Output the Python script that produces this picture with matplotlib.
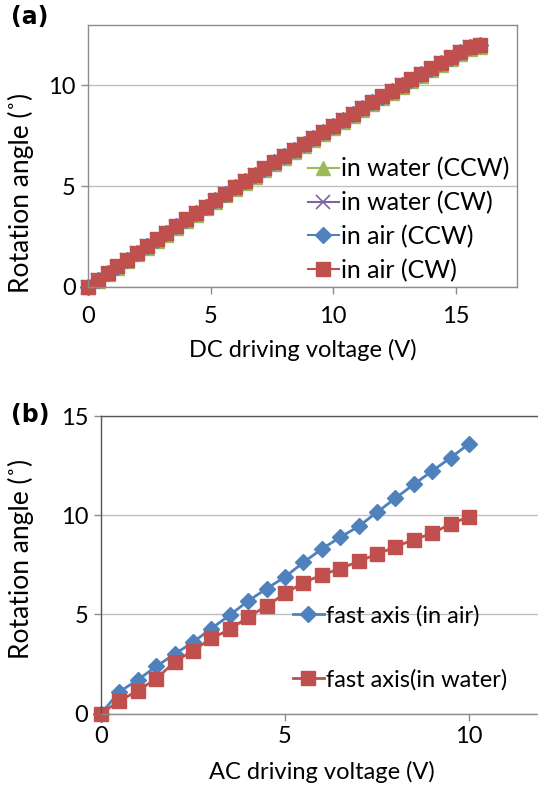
import matplotlib
matplotlib.use("Agg")
import matplotlib.pyplot as plt

plt.rcParams['font.family'] = ['Lato', 'DejaVu Sans']

# (a) DC driving, 0.4 V steps
dc_volt = [0.0, 0.4, 0.8, 1.2, 1.6, 2.0, 2.4, 2.8, 3.2, 3.6, 4.0, 4.4, 4.8, 5.2,
           5.6, 6.0, 6.4, 6.8, 7.2, 7.6, 8.0, 8.4, 8.8, 9.2, 9.6, 10.0, 10.4, 10.8,
           11.2, 11.6, 12.0, 12.4, 12.8, 13.2, 13.6, 14.0, 14.4, 14.8, 15.2, 15.6, 16.0]
air_cw = [0.00, 0.34, 0.68, 1.02, 1.36, 1.70, 2.03, 2.36, 2.69, 3.02, 3.35, 3.67, 3.99, 4.31,
          4.63, 4.95, 5.26, 5.57, 5.88, 6.19, 6.50, 6.80, 7.10, 7.40, 7.70, 8.00, 8.30, 8.59,
          8.88, 9.17, 9.46, 9.74, 10.02, 10.30, 10.58, 10.85, 11.12, 11.39, 11.66, 11.92, 12.00]
air_ccw = [0.00, 0.33, 0.67, 1.01, 1.35, 1.69, 2.02, 2.35, 2.68, 3.01, 3.34, 3.66, 3.98, 4.30,
           4.62, 4.94, 5.25, 5.56, 5.87, 6.18, 6.49, 6.79, 7.09, 7.39, 7.69, 7.99, 8.29, 8.58,
           8.87, 9.16, 9.45, 9.73, 10.01, 10.29, 10.57, 10.84, 11.11, 11.38, 11.65, 11.91, 11.99]
water_cw = [0.00, 0.33, 0.66, 1.00, 1.34, 1.68, 2.01, 2.34, 2.67, 3.00, 3.33, 3.65, 3.97, 4.29,
            4.61, 4.93, 5.24, 5.55, 5.86, 6.17, 6.48, 6.78, 7.08, 7.38, 7.68, 7.98, 8.28, 8.57,
            8.86, 9.15, 9.44, 9.72, 10.00, 10.28, 10.56, 10.83, 11.10, 11.37, 11.64, 11.90, 11.98]
water_ccw = [0.00, 0.29, 0.62, 0.95, 1.28, 1.62, 1.95, 2.27, 2.60, 2.93, 3.26, 3.58, 3.90, 4.22,
             4.54, 4.86, 5.17, 5.48, 5.79, 6.09, 6.40, 6.70, 7.00, 7.30, 7.60, 7.90, 8.20, 8.49,
             8.78, 9.07, 9.36, 9.64, 9.92, 10.20, 10.48, 10.75, 11.02, 11.29, 11.56, 11.82, 11.90]

# (b) AC driving, 0.5 V steps
ac_volt = [0.0, 0.5, 1.0, 1.5, 2.0, 2.5, 3.0, 3.5, 4.0, 4.5, 5.0,
           5.5, 6.0, 6.5, 7.0, 7.5, 8.0, 8.5, 9.0, 9.5, 10.0]
fast_air = [0.0, 1.10, 1.70, 2.38, 3.00, 3.60, 4.29, 4.97, 5.68, 6.30, 6.89,
            7.62, 8.30, 8.89, 9.44, 10.15, 10.86, 11.56, 12.23, 12.90, 13.60]
fast_water = [0.0, 0.64, 1.15, 1.76, 2.60, 3.18, 3.79, 4.24, 4.87, 5.42, 6.06,
              6.60, 6.99, 7.31, 7.67, 8.04, 8.41, 8.77, 9.09, 9.56, 9.93]

BLUE = '#4F81BD'
RED = '#C0504D'
GREEN = '#9BBB59'
PURPLE = '#8064A2'
GRID = '#BFBFBF'
FS = 17


def style_axes(ax):
    ax.grid(axis='y', color=GRID, linewidth=1.0)
    ax.set_axisbelow(True)
    for s in ax.spines.values():
        s.set_color('#8C8C8C')
        s.set_linewidth(1.0)
    ax.tick_params(axis='both', labelsize=FS, length=5, width=1.0, color='#8C8C8C',
                   direction='out', pad=4)


fig = plt.figure(figsize=(5.38, 7.86), dpi=100)

ax1 = fig.add_axes([0.1636, 0.6349, 0.797, 0.3333])
ax1.plot(dc_volt, water_ccw, color=GREEN, marker='^', ms=10, lw=1.5, clip_on=False,
         label='in water (CCW)')
ax1.plot(dc_volt, water_cw, color=PURPLE, marker='x', ms=10, mew=1.2, lw=1.5, clip_on=False,
         label='in water (CW)')
ax1.plot(dc_volt, air_ccw, color=BLUE, marker='D', ms=8.5, lw=1.5, clip_on=False,
         label='in air (CCW)')
ax1.plot(dc_volt, air_cw, color=RED, marker='s', ms=10.5, lw=1.5, clip_on=False,
         label='in air (CW)')
ax1.set_xlim(0, 17.5)
ax1.set_ylim(0, 13)
ax1.set_xticks([0, 5, 10, 15])
ax1.set_yticks([0, 5, 10])
style_axes(ax1)
ax1.tick_params(axis='x', pad=9)
ax1.set_xlabel('DC driving voltage (V)', fontsize=FS, labelpad=8)
ax1.set_ylabel('Rotation angle (˚)', fontsize=19)
ax1.yaxis.set_label_coords(-0.126, 0.36)
ax1.legend(loc='upper left', bbox_to_anchor=(0.512, 0.495), frameon=False, fontsize=18,
           handlelength=1.25, handletextpad=0.1, labelspacing=0.42, borderaxespad=0,
           borderpad=0)

ax2 = fig.add_axes([0.1877, 0.0921, 0.821, 0.3786])
ax2.plot(ac_volt, fast_air, color=BLUE, marker='D', ms=8.5, lw=2, clip_on=False,
         label='fast axis (in air)')
ax2.plot(ac_volt, fast_water, color=RED, marker='s', ms=10, lw=2, clip_on=False,
         label='fast axis(in water)')
ax2.set_xlim(0, 12)
ax2.set_ylim(0, 15)
ax2.set_xticks([0, 5, 10])
ax2.set_yticks([0, 5, 10, 15])
style_axes(ax2)
ax2.set_xlabel('AC driving voltage (V)', fontsize=FS, labelpad=10)
ax2.set_ylabel('Rotation angle (˚)', fontsize=19)
ax2.yaxis.set_label_coords(-0.152, 0.52)
ax2.spines['left'].set_color('#555555')
ax2.spines['top'].set_color('#555555')
ax2.legend(loc='upper left', bbox_to_anchor=(0.435, 0.365), frameon=False, fontsize=FS,
           handlelength=1.3, handletextpad=0.1, labelspacing=1.8, borderaxespad=0,
           borderpad=0)

fig.text(0.02, 0.978, '(a)', fontsize=17, fontweight='bold', family='DejaVu Sans',
         va='center', ha='left')
fig.text(0.02, 0.472, '(b)', fontsize=17, fontweight='bold', family='DejaVu Sans',
         va='center', ha='left')

fig.savefig('out.png', dpi=100)
